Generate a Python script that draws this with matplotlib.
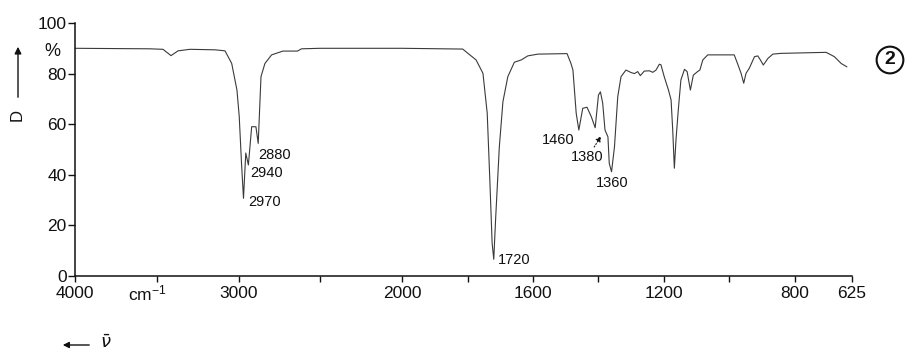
import matplotlib
matplotlib.use("Agg")
import matplotlib.pyplot as plt
import numpy as np

plt.rcParams['font.family'] = ['Liberation Sans', 'DejaVu Sans']
plt.rcParams['mathtext.default'] = 'regular'

# IR spectrum: wavenumber (cm^-1) and transmittance D (%)
wavenumber = [4000, 3542, 3462, 3413, 3370, 3297, 3144, 3083, 3042, 3010,
              2996, 2982, 2970, 2956, 2940, 2920, 2894, 2880, 2863, 2839,
              2798, 2729, 2640, 2615, 2503, 2000, 1815, 1774, 1753, 1740,
              1732, 1725, 1720, 1714, 1703, 1692, 1677, 1657, 1636, 1616,
              1585, 1496, 1484, 1478, 1468, 1460, 1448, 1435, 1422, 1410,
              1400, 1394, 1387, 1380, 1371, 1367, 1360, 1351, 1341, 1331,
              1316, 1300, 1290, 1280, 1272, 1260, 1244, 1234, 1224, 1214,
              1209, 1199, 1186, 1178, 1173, 1168, 1163, 1156, 1148, 1137,
              1129, 1119, 1110, 1097, 1090, 1081, 1066, 985, 975, 964,
              956, 949, 939, 923, 913, 905, 896, 882, 867, 842,
              704, 679, 658, 641]
transmittance = [90.0, 89.8, 89.6, 87.1, 89.0, 89.6, 89.4, 89.0, 84.0, 73.5,
                 63.0, 44.5, 30.7, 48.6, 43.9, 59.0, 59.0, 52.4, 78.8, 84.0,
                 87.4, 88.9, 88.9, 89.8, 90.0, 90.0, 89.7, 85.4, 80.1, 64.3,
                 37.9, 13.0, 6.6, 23.4, 51.0, 68.9, 78.8, 84.5, 85.4, 87.0,
                 87.7, 87.9, 84.0, 81.4, 64.3, 57.7, 66.3, 66.7, 63.0, 58.6,
                 71.5, 72.8, 68.3, 57.7, 55.0, 44.5, 41.2, 51.1, 70.9, 78.8,
                 81.4, 80.4, 80.0, 80.8, 79.2, 81.0, 81.1, 80.5, 81.4, 83.7,
                 83.5, 78.8, 73.5, 69.6, 57.7, 42.6, 53.8, 65.6, 77.5, 81.7,
                 80.8, 73.5, 79.4, 80.8, 81.4, 85.4, 87.4, 87.4, 84.0, 80.1,
                 76.2, 80.1, 82.1, 86.7, 87.0, 85.4, 83.4, 86.0, 87.7, 88.0,
                 88.4, 86.7, 84.0, 82.7]

# Band annotations: text, anchor wavenumber, anchor D
band_labels = ['2970', '2940', '2880', '1720', '1460', '1380', '1360']
band_label_x = [2943, 2930, 2880, 1706, 1572, 1484, 1407]
band_label_y = [29.4, 40.7, 47.8, 6.3, 53.8, 47.2, 36.8]

x_ticks = [4000, 3500, 3000, 2500, 2000, 1800, 1600, 1400, 1200, 1000, 800, 625]
x_tick_labels = ['4000', '', '3000', '', '2000', '', '1600', '', '1200', '', '800', '625']
y_ticks = [0, 20, 40, 60, 80, 100]
y_tick_labels = ['0', '20', '40', '60', '80', '100']


# Abscissa with a doubled scale below 2000 cm^-1
def fwd(v):
    v = np.asarray(v, dtype=float)
    return np.where(v >= 2000, v, 2 * v - 2000)


def inv(u):
    u = np.asarray(u, dtype=float)
    return np.where(u >= 2000, u, (u + 2000) / 2)


W, H = 909, 353
fig = plt.figure(figsize=(W / 100, H / 100), dpi=100)
ax = fig.add_axes([75 / W, 1 - 276 / H, 777 / W, 253 / H])
ax.set_xscale('function', functions=(fwd, inv))
ax.set_xlim(4000, 625)
ax.set_ylim(0, 100)

ax.plot(wavenumber, transmittance, color='#3a3a3a', lw=0.8)

for s in ('top', 'right'):
    ax.spines[s].set_visible(False)
for s in ('left', 'bottom'):
    ax.spines[s].set_linewidth(1.1)
    ax.spines[s].set_color('#111111')

ax.set_xticks(x_ticks)
ax.set_xticklabels(x_tick_labels)
ax.xaxis.set_minor_locator(matplotlib.ticker.NullLocator())
ax.set_yticks(y_ticks)
ax.set_yticklabels(y_tick_labels)
ax.tick_params(axis='x', direction='out', length=4, width=1, pad=3,
               labelsize=12.5, colors='#111111')
ax.tick_params(axis='y', direction='out', length=5, width=1, pad=1,
               labelsize=12.5, colors='#111111')

ax.text(3560, -2.8, 'cm$^{-1}$', ha='center', va='top', fontsize=12.5,
        color='#111111', transform=ax.transData, clip_on=False)

for t, x, y in zip(band_labels, band_label_x, band_label_y):
    ax.text(x, y, t, ha='left', va='center', fontsize=10.5, color='#111111')

ax.annotate('', xy=(1392, 55.3), xytext=(1413, 51.0),
            arrowprops=dict(arrowstyle='-|>', lw=0.8, ls=':', color='#111111',
                            mutation_scale=8, shrinkA=0, shrinkB=0))

# Axis quantity labels
fig.text(52 / W, 1 - 51 / H, '%', ha='center', va='center', fontsize=13,
         color='#111111')
fig.text(17 / W, 1 - 115 / H, 'D', ha='center', va='center', fontsize=12,
         rotation=90, color='#111111')
fig.patches.append(matplotlib.patches.FancyArrowPatch(
    (18 / W, 1 - 100 / H), (18 / W, 1 - 44 / H), transform=fig.transFigure,
    arrowstyle='-|>', mutation_scale=10, lw=1, color='#111111'))
fig.patches.append(matplotlib.patches.FancyArrowPatch(
    (92 / W, 1 - 345 / H), (60 / W, 1 - 345 / H), transform=fig.transFigure,
    arrowstyle='-|>', mutation_scale=9, lw=1, color='#111111'))
fig.text(100 / W, 1 - 343 / H, r'$\mathit{\bar{\nu}}$', ha='left', va='center',
         fontsize=13, color='#111111')

# Spectrum number
fig.text(890 / W, 1 - 60 / H, '2', ha='center', va='center', fontsize=14,
         fontweight='bold', color='#111111',
         bbox=dict(boxstyle='circle,pad=0.25', fc='white', ec='#111111', lw=1.5))

fig.savefig('out.png', dpi=100)
